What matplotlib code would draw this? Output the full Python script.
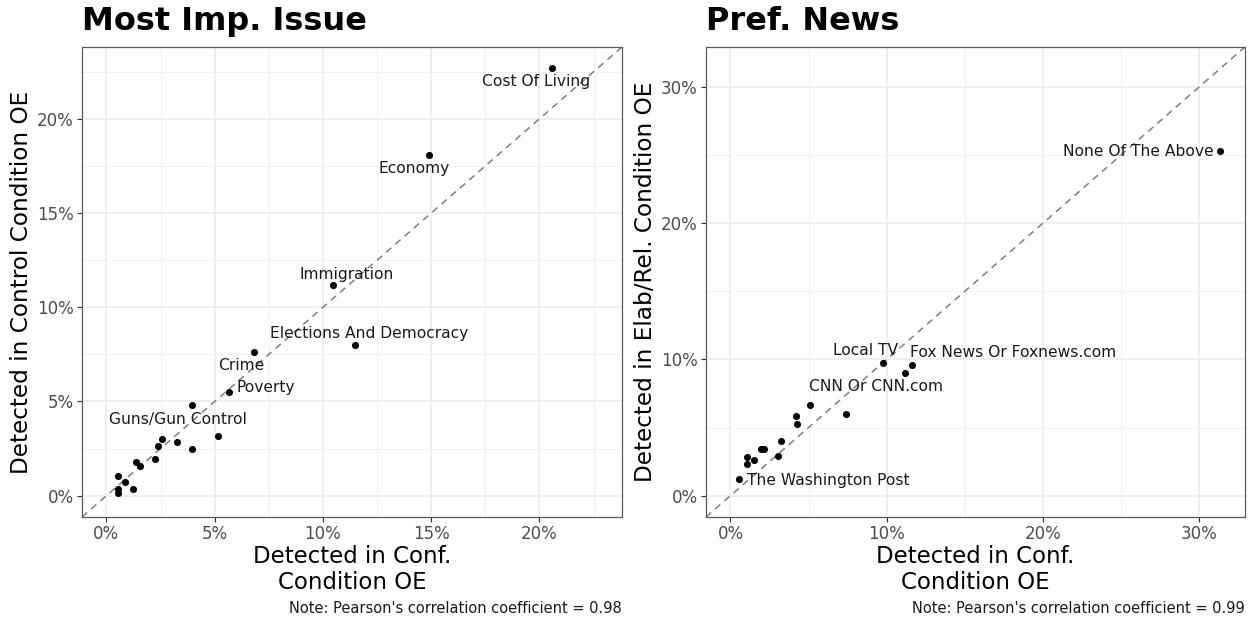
import matplotlib
matplotlib.use("Agg")
import matplotlib.pyplot as plt
from matplotlib.ticker import FuncFormatter, MultipleLocator

plt.rcParams["font.family"] = ["DejaVu Sans"]

# ---- data: Most Imp. Issue (percent) ----
issue_conf = [20.6, 14.9, 10.45, 11.5, 6.83, 5.68, 3.95, 5.14, 2.57, 3.26, 2.38,
              3.95, 2.23, 1.37, 1.54, 0.52, 0.85, 0.52, 0.52, 1.22]
issue_ctrl = [22.68, 18.07, 11.17, 8.0, 7.62, 5.51, 4.79, 3.19, 3.01, 2.84, 2.66,
              2.48, 1.95, 1.77, 1.60, 1.06, 0.71, 0.35, 0.14, 0.35]
issue_labels = ["Cost Of Living", "Economy", "Immigration", "Elections And Democracy",
                "Crime", "Poverty", "Guns/Gun Control", "", "", "", "",
                "", "", "", "", "", "", "", "", ""]

# ---- data: Pref. News (percent) ----
news_conf = [31.36, 9.74, 11.65, 11.18, 5.09, 7.39, 4.17, 4.29, 3.21, 1.94, 2.16,
             3.06, 1.03, 1.50, 1.03, 0.56]
news_elab = [25.29, 9.75, 9.58, 8.97, 6.63, 6.02, 5.88, 5.25, 4.00, 3.39, 3.39,
             2.92, 2.80, 2.60, 2.29, 1.20]
news_labels = ["None Of The Above", "Local TV", "Fox News Or Foxnews.com", "CNN Or CNN.com",
               "", "", "", "", "", "", "", "", "", "", "", "The Washington Post"]

issue_r = 0.98
news_r = 0.99

# label placement (offset in points, horizontal alignment) - mimics ggrepel result
issue_offsets = {
    "Cost Of Living": (-11.5, -9.5, "center"),
    "Economy": (-10.5, -9.5, "center"),
    "Immigration": (10, 8, "center"),
    "Elections And Democracy": (10, 8, "center"),
    "Crime": (-9.5, -9.5, "center"),
    "Poverty": (5, 3, "left"),
    "Guns/Gun Control": (-10, -10, "center"),
}
news_offsets = {
    "None Of The Above": (-5, 0, "right"),
    "Local TV": (-12, 8.5, "center"),
    "Fox News Or Foxnews.com": (-1.5, 9, "left"),
    "CNN Or CNN.com": (-21, -9.5, "center"),
    "The Washington Post": (5.5, -1, "left"),
}

pct = FuncFormatter(lambda v, _: f"{v:.0f}%")


def panel(ax, xs, ys, labels, offsets, title, ylabel, lim, step, r):
    ax.set_xlim(*lim)
    ax.set_ylim(*lim)
    ax.xaxis.set_major_locator(MultipleLocator(step))
    ax.yaxis.set_major_locator(MultipleLocator(step))
    ax.xaxis.set_minor_locator(MultipleLocator(step / 2))
    ax.yaxis.set_minor_locator(MultipleLocator(step / 2))
    ax.xaxis.set_major_formatter(pct)
    ax.yaxis.set_major_formatter(pct)
    ax.grid(True, which="major", color="#EBEBEB", lw=1.1, zorder=0)
    ax.grid(True, which="minor", color="#F0F0F0", lw=0.7, zorder=0)
    ax.set_axisbelow(True)
    for s in ax.spines.values():
        s.set_color("#5A5A5A")
        s.set_linewidth(0.9)
    ax.tick_params(which="major", length=3.5, width=0.8, color="#333333",
                   labelsize=12, labelcolor="#4D4D4D", pad=2.5)
    ax.tick_params(which="minor", length=0)

    ax.axline((0, 0), slope=1, color="#7F7F7F", ls=(0, (4.5, 3.5)), lw=1.1, zorder=1)
    ax.scatter(xs, ys, s=26, color="black", zorder=3, linewidths=0)
    for x, y, lab in zip(xs, ys, labels):
        if not lab:
            continue
        dx, dy, ha = offsets[lab]
        ax.annotate(lab, (x, y), xytext=(dx, dy), textcoords="offset points",
                    ha=ha, va="center", fontsize=11.2, color="#1A1A1A", zorder=4)

    ax.text(0, 1.022, title, transform=ax.transAxes, ha="left", va="bottom",
            fontsize=23, fontweight="bold", color="black")
    ax.set_xlabel("Detected in Conf.\nCondition OE", fontsize=16.5, labelpad=1)
    ax.set_ylabel(ylabel, fontsize=16.7, labelpad=3)
    ax.text(1, -0.195, f"Note: Pearson's correlation coefficient = {r:.2f}",
            transform=ax.transAxes, ha="right", va="center", fontsize=10.5,
            color="#1A1A1A")


fig = plt.figure(figsize=(12.55, 6.2), dpi=100)
ax1 = fig.add_axes([0.0653, 0.1661, 0.4303, 0.7581])
ax2 = fig.add_axes([0.5625, 0.1661, 0.4295, 0.7581])

panel(ax1, issue_conf, issue_ctrl, issue_labels, issue_offsets, "Most Imp. Issue",
      "Detected in Control Condition OE", (-1.13, 23.81), 5, issue_r)
panel(ax2, news_conf, news_elab, news_labels, news_offsets, "Pref. News",
      "Detected in Elab/Rel. Condition OE", (-1.57, 32.93), 10, news_r)

fig.savefig("out.png", dpi=100, facecolor="white")
